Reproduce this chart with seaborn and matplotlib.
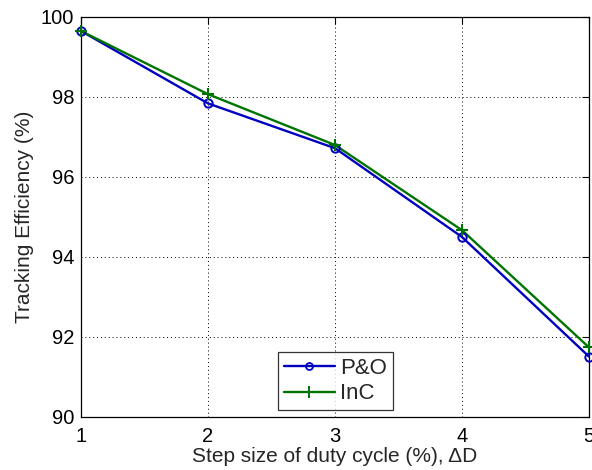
import matplotlib
matplotlib.use("Agg")
import matplotlib.pyplot as plt
import seaborn as sns
import pandas as pd
from matplotlib.lines import Line2D

step_size = [1, 2, 3, 4, 5]
po_eff = [99.65, 97.84, 96.72, 94.50, 91.51]
inc_eff = [99.65, 98.07, 96.80, 94.67, 91.74]
series_names = ["P&O", "InC"]
x_ticks = [1, 2, 3, 4, 5]
y_ticks = [90, 92, 94, 96, 98, 100]

sns.set_style("white")
plt.rcParams["font.family"] = ["Liberation Sans", "DejaVu Sans"]

df = pd.DataFrame({
    "step": step_size * 2,
    "eff": po_eff + inc_eff,
    "method": [series_names[0]] * len(step_size) + [series_names[1]] * len(step_size),
})

fig = plt.figure(figsize=(5.92, 4.70), dpi=100)
ax = fig.add_axes([81 / 592, 1 - 417 / 470, 508 / 592, 400 / 470])

palette = {"P&O": "#0000c0", "InC": "#007400"}
sns.lineplot(data=df, x="step", y="eff", hue="method", style="method",
             palette=palette, dashes=False, markers=False, ax=ax, lw=1.7,
             legend=False)

# markers drawn on top: open circle and thin plus
ax.plot(step_size, po_eff, ls="none", marker="o", ms=6, mfc="none",
        mec=palette["P&O"], mew=1.4, clip_on=False, zorder=5)
ax.plot(step_size, inc_eff, ls="none", marker="+", ms=8,
        mec=palette["InC"], mew=1.5, clip_on=False, zorder=5)

handles = [
    Line2D([], [], color=palette["P&O"], lw=1.7, marker="o", ms=5,
           mfc="none", mew=1.3),
    Line2D([], [], color=palette["InC"], lw=1.7, marker="+", ms=8, mew=1.4),
]
leg = ax.legend(handles, series_names, loc="lower left",
                bbox_to_anchor=(0.388, 0.0175), borderaxespad=0,
                fontsize=16, frameon=True, fancybox=False, handlelength=2.3,
                handletextpad=0.25, labelspacing=0.2, borderpad=0.25)
leg.get_frame().set_edgecolor("black")
leg.get_frame().set_linewidth(0.9)

ax.set_xlim(1, 5)
ax.set_ylim(90, 100)
ax.set_xticks(x_ticks)
ax.set_yticks(y_ticks)
ax.grid(True, color="black", linestyle=(0, (1, 3)), linewidth=0.7)
for s in ax.spines.values():
    s.set_visible(True)
    s.set_color("black")
    s.set_linewidth(0.9)
ax.tick_params(direction="in", length=5, width=0.8, top=True, right=True,
               labelsize=14.5, colors="black")
ax.tick_params(axis="x", pad=7)
ax.tick_params(axis="y", pad=5)
ax.set_xlabel("Step size of duty cycle (%), \u0394D", fontsize=15, labelpad=1)
ax.set_ylabel("Tracking Efficiency (%)", fontsize=15, labelpad=5)

fig.savefig("out.png", dpi=100)
